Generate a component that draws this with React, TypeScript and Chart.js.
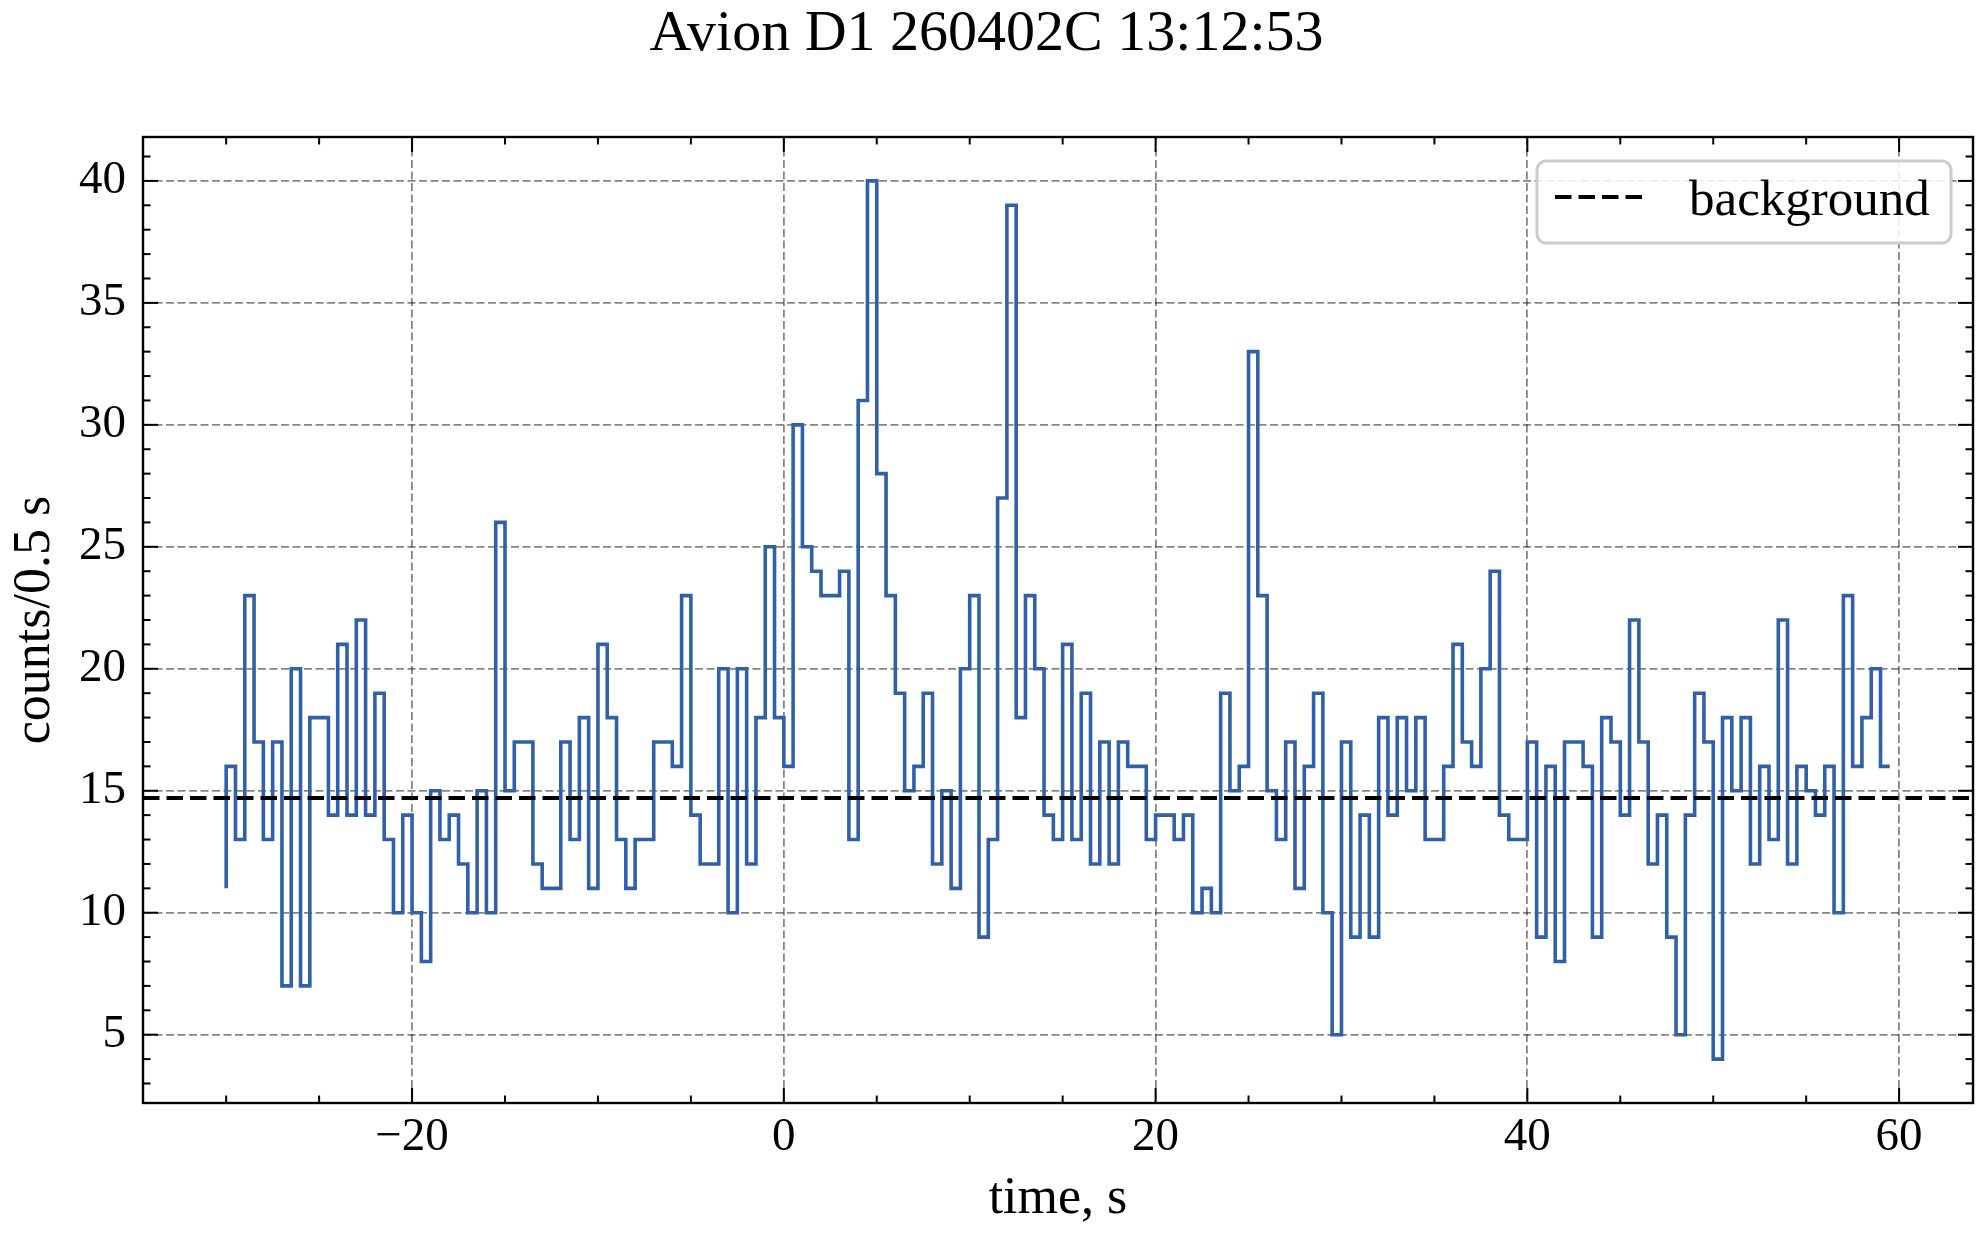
import { useEffect, useRef } from 'react';
import { Chart, registerables, type Plugin } from 'chart.js';

Chart.register(...registerables);

const TITLE = 'Avion D1 260402C 13:12:53';
const X_LABEL = 'time, s';
const Y_LABEL = 'counts/0.5 s';
const LEGEND_LABEL = 'background';

// light curve: 0.5 s bins starting at -30 s (step drawn "pre")
const T_START = -30;
const BIN_WIDTH = 0.5;
const COUNTS = [
  11,
  16, 13, 23, 17, 13, 17, 7, 20, 7, 18, 18, 14, 21, 14, 22, 14, 19, 13, 10, 14,
  10, 8, 15, 13, 14, 12, 10, 15, 10, 26, 15, 17, 17, 12, 11, 11, 17, 13, 18, 11,
  21, 18, 13, 11, 13, 13, 17, 17, 16, 23, 14, 12, 12, 20, 10, 20, 12, 18, 25, 18,
  16, 30, 25, 24, 23, 23, 24, 13, 31, 40, 28, 23, 19, 15, 16, 19, 12, 15, 11, 20,
  23, 9, 13, 27, 39, 18, 23, 20, 14, 13, 21, 13, 19, 12, 17, 12, 17, 16, 16, 13,
  14, 14, 13, 14, 10, 11, 10, 19, 15, 16, 33, 23, 15, 13, 17, 11, 16, 19, 10, 5,
  17, 9, 14, 9, 18, 14, 18, 15, 18, 13, 13, 16, 21, 17, 16, 20, 24, 14, 13, 13,
  17, 9, 16, 8, 17, 17, 16, 9, 18, 17, 14, 22, 17, 12, 14, 9, 5, 14, 19, 17,
  4, 18, 15, 18, 12, 16, 13, 22, 12, 16, 15, 14, 16, 10, 23, 16, 18, 20, 16,
];
const TIMES = COUNTS.map((_, i) => T_START + i * BIN_WIDTH);
const BACKGROUND_LEVEL = 14.7;

const X_LIMITS = [-34.475, 63.975];
const Y_LIMITS = [2.2, 41.8];
const X_MAJOR = [-20, 0, 20, 40, 60];
const X_MINOR = [-30, -25, -15, -10, -5, 5, 10, 15, 25, 30, 35, 45, 50, 55];
const Y_MAJOR = [5, 10, 15, 20, 25, 30, 35, 40];
const Y_MINOR = [
  3, 4, 6, 7, 8, 9, 11, 12, 13, 14, 16, 17, 18, 19, 21, 22, 23, 24, 26, 27, 28,
  29, 31, 32, 33, 34, 36, 37, 38, 39, 41,
];

const FONT = "'Liberation Serif', 'Times New Roman', serif";
const LINE_BLUE = '#3060a7';
const GRID_COLOR = 'rgba(0,0,0,0.48)';

const fmtTick = (v: number) => (v < 0 ? '\u2212' + Math.abs(v) : String(v));

// inward ticks on all four sides + frame
const frameTicks: Plugin = {
  id: 'frameTicks',
  afterDatasetsDraw(chart) {
    const { ctx, chartArea, scales } = chart;
    const { left, right, top, bottom } = chartArea;
    const line = (x1: number, y1: number, x2: number, y2: number) => {
      ctx.beginPath();
      ctx.moveTo(x1, y1);
      ctx.lineTo(x2, y2);
      ctx.stroke();
    };
    ctx.save();
    ctx.strokeStyle = '#000';
    ctx.lineWidth = 2;
    const xTicks = (vals: number[], len: number) =>
      vals.forEach((v) => {
        const px = scales.x.getPixelForValue(v);
        line(px, bottom, px, bottom - len);
        line(px, top, px, top + len);
      });
    const yTicks = (vals: number[], len: number) =>
      vals.forEach((v) => {
        const py = scales.y.getPixelForValue(v);
        line(left, py, left + len, py);
        line(right, py, right - len, py);
      });
    xTicks(X_MAJOR, 15);
    xTicks(X_MINOR, 7.5);
    yTicks(Y_MAJOR, 15);
    yTicks(Y_MINOR, 7.5);
    ctx.lineWidth = 2.4;
    ctx.strokeRect(left, top, right - left, bottom - top);
    ctx.restore();
  },
};

// matplotlib-like legend box in the upper right corner
const legendBox: Plugin = {
  id: 'legendBox',
  afterDraw(chart) {
    const { ctx, chartArea } = chart;
    const ds = chart.data.datasets[0] as any;
    const w = 414;
    const h = 82;
    const x0 = chartArea.right - 22 - w;
    const y0 = chartArea.top + 24;
    ctx.save();
    ctx.beginPath();
    ctx.roundRect(x0, y0, w, h, 9);
    ctx.fillStyle = 'rgba(255,255,255,0.85)';
    ctx.fill();
    ctx.lineWidth = 3;
    ctx.strokeStyle = '#cccccc';
    ctx.stroke();
    ctx.beginPath();
    ctx.setLineDash(ds.borderDash);
    ctx.lineWidth = ds.borderWidth;
    ctx.strokeStyle = ds.borderColor;
    ctx.moveTo(x0 + 18, y0 + 36);
    ctx.lineTo(x0 + 111, y0 + 36);
    ctx.stroke();
    ctx.setLineDash([]);
    ctx.fillStyle = '#000';
    ctx.font = `51px ${FONT}`;
    ctx.textBaseline = 'alphabetic';
    ctx.textAlign = 'left';
    ctx.fillText(ds.label, x0 + 152, y0 + 54);
    ctx.restore();
  },
};

export default function App() {
  const canvasRef = useRef<HTMLCanvasElement>(null);
  const chartRef = useRef<Chart | null>(null);

  useEffect(() => {
    document.body.style.margin = '0';
    if (!canvasRef.current) return;
    if (chartRef.current) chartRef.current.destroy();

    const tickFont = { family: FONT, size: 47, weight: 'normal' as const };
    const labelFont = { family: FONT, size: 52, weight: 'normal' as const, lineHeight: 1.1 };

    chartRef.current = new Chart(canvasRef.current, {
      type: 'line',
      data: {
        datasets: [
          {
            label: LEGEND_LABEL,
            data: [
              { x: X_LIMITS[0], y: BACKGROUND_LEVEL },
              { x: X_LIMITS[1], y: BACKGROUND_LEVEL },
            ],
            borderColor: '#000',
            borderWidth: 4,
            borderDash: [16.5, 7],
            pointRadius: 0,
            order: 0,
          },
          {
            label: 'counts',
            data: TIMES.map((t, i) => ({ x: t, y: COUNTS[i] })),
            borderColor: LINE_BLUE,
            borderWidth: 3.6,
            stepped: 'after',
            pointRadius: 0,
            order: 1,
          },
        ],
      },
      options: {
        animation: false,
        responsive: false,
        devicePixelRatio: 1,
        layout: { padding: { left: 0, right: 11, top: 0, bottom: 0 } },
        plugins: {
          legend: { display: false },
          tooltip: { enabled: false },
          title: {
            display: true,
            text: TITLE,
            color: '#000',
            font: { family: FONT, size: 58, weight: 'normal', lineHeight: 1.1 },
            padding: { top: 3, bottom: 137 - 3 - 58 * 1.1 },
          },
        },
        scales: {
          x: {
            type: 'linear',
            min: X_LIMITS[0],
            max: X_LIMITS[1],
            afterFit: (s) => {
              s.height = 131;
            },
            afterBuildTicks: (s) => {
              s.ticks = X_MAJOR.map((value) => ({ value }));
            },
            ticks: {
              autoSkip: false,
              maxRotation: 0,
              minRotation: 0,
              padding: 6,
              color: '#000',
              font: tickFont,
              callback: (v) => fmtTick(Number(v)),
            },
            grid: { color: GRID_COLOR, lineWidth: 1.8, drawTicks: false },
            border: { display: false, dash: [8, 3.5] },
            title: {
              display: true,
              text: X_LABEL,
              color: '#000',
              font: labelFont,
              padding: { top: 0, bottom: 6 },
            },
          },
          y: {
            type: 'linear',
            min: Y_LIMITS[0],
            max: Y_LIMITS[1],
            afterFit: (s) => {
              s.width = 143;
            },
            afterBuildTicks: (s) => {
              s.ticks = Y_MAJOR.map((value) => ({ value }));
            },
            ticks: {
              autoSkip: false,
              padding: 17,
              color: '#000',
              font: tickFont,
              callback: (v) => fmtTick(Number(v)),
            },
            grid: { color: GRID_COLOR, lineWidth: 1.8, drawTicks: false },
            border: { display: false, dash: [8, 3.5] },
            title: {
              display: true,
              text: Y_LABEL,
              color: '#000',
              font: labelFont,
              padding: { top: 7, bottom: 0 },
            },
          },
        },
      },
      plugins: [frameTicks, legendBox],
    });

    return () => {
      if (chartRef.current) {
        chartRef.current.destroy();
        chartRef.current = null;
      }
    };
  }, []);

  return (
    <canvas
      ref={canvasRef}
      width={1984}
      height={1234}
      style={{ display: 'block', width: 1984, height: 1234 }}
    />
  );
}
